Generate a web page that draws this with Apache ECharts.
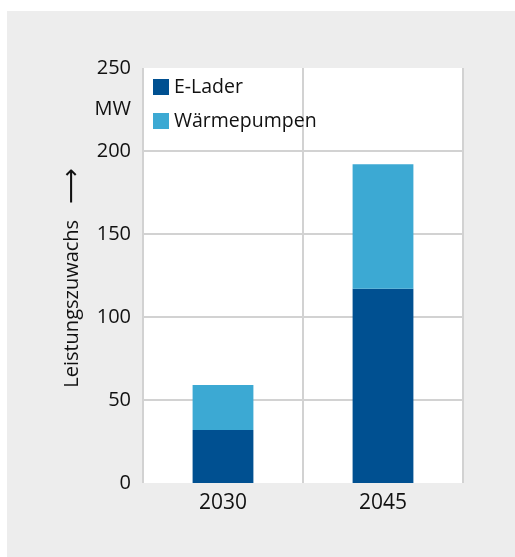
<!DOCTYPE html>
<html>
<head>
<meta charset="utf-8">
<script src="https://cdn.jsdelivr.net/npm/echarts@6/dist/echarts.min.js"></script>
<style>
	html, body { margin: 0; padding: 0; background: #ffffff; }
	#chart { position: absolute; left: 7px; top: 11px; width: 508px; height: 546px; }
</style>
</head>
<body>
<div id="chart"></div>
<script>
var categories = ['2030', '2045'];
var eLader = [32, 117];
var waermepumpen = [27, 75];
var seriesNames = ['E-Lader', 'Wärmepumpen'];

var FONT = '"Open Sans", "DejaVu Sans", sans-serif';
var TXT = '#111111';

chart();

function chart() {
	var myChart = echarts.init(document.getElementById('chart'));

	var option = {
		backgroundColor: '#ededed',
		animation: false,
		textStyle: { fontFamily: FONT },
		grid: {
			left: 136,
			top: 57,
			width: 320,
			height: 415,
			show: true,
			backgroundColor: '#ffffff',
			borderWidth: 0
		},
		legend: {
			orient: 'vertical',
			left: 141,
			top: 61,
			itemWidth: 16,
			itemHeight: 16,
			itemGap: 14,
			icon: 'rect',
			data: seriesNames,
			textStyle: { fontSize: 19.5, color: TXT, fontFamily: FONT }
		},
		// Einheit unter dem obersten Tick-Label
		graphic: [{
			type: 'text',
			right: 508 - 124,
			top: 88,
			style: {
				text: 'MW',
				fontSize: 20,
				fontFamily: FONT,
				fill: TXT,
				align: 'right'
			}
		}],
		xAxis: {
			type: 'category',
			data: categories,
			axisLine: { show: false },
			axisTick: { show: false },
			axisLabel: { fontSize: 21, color: TXT, margin: 10 },
			splitLine: { show: true, lineStyle: { color: '#d2d2d2', width: 2 } }
		},
		yAxis: {
			type: 'value',
			min: 0,
			max: 250,
			interval: 50,
			name: '{t|Leistungszuwachs}   {a|⟶} ',
			nameLocation: 'middle',
			nameGap: 58,
			nameTextStyle: {
				fontSize: 20,
				color: TXT,
				fontFamily: FONT,
				rich: {
					t: { fontSize: 20, color: TXT, fontFamily: FONT },
					a: { fontSize: 25, color: TXT, fontFamily: '"DejaVu Sans"' }
				}
			},
			axisLine: { show: false },
			axisTick: { show: false },
			axisLabel: { fontSize: 20, color: TXT, margin: 12 },
			splitLine: {
				show: true,
				showMinLine: false,
				showMaxLine: false,
				lineStyle: { color: '#d2d2d2', width: 2 }
			}
		},
		series: [{
			name: seriesNames[0],
			type: 'bar',
			stack: 'total',
			barWidth: '38%',
			data: eLader,
			itemStyle: { color: '#005091' }
		}, {
			name: seriesNames[1],
			type: 'bar',
			stack: 'total',
			barWidth: '38%',
			data: waermepumpen,
			itemStyle: { color: '#3ca9d3' }
		}]
	};
	myChart.setOption(option);
}
</script>
</body>
</html>
